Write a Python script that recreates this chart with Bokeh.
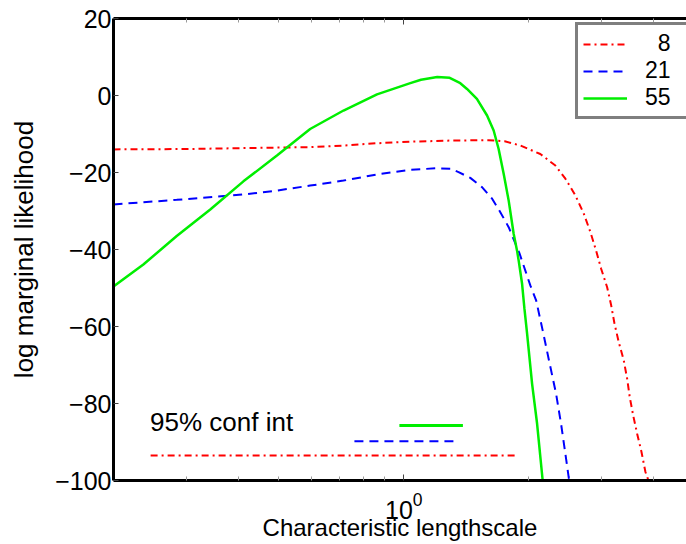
from bokeh.plotting import figure
from bokeh.models import LogAxis, FixedTicker, Legend, LegendItem, Range1d
from bokeh.core.properties import value
from bokeh.embed import file_html
from bokeh.resources import INLINE

FONT = "Liberation Sans"

# ---- data ----
series_names = ["\u20078", "21", "55"]

x8 = [0.2, 0.3, 0.45, 0.595, 0.716, 0.862, 1.037, 1.3, 1.6, 1.75, 1.909, 2.132, 2.318, 2.45,
      2.591, 2.713, 2.815, 2.905, 2.987, 3.088, 3.158, 3.216, 3.294, 3.386, 3.451, 3.501,
      3.568, 3.648, 3.736, 3.819, 3.884]
y8 = [-14.0, -13.9, -13.6, -13.4, -13.0, -12.4, -12.0, -11.7, -11.6, -11.9, -13.0, -15.2,
      -18.2, -21.6, -26.0, -30.7, -35.5, -40.3, -45.0, -49.8, -54.5, -59.2, -64.1, -68.8,
      -73.6, -78.4, -83.1, -87.9, -92.6, -97.8, -100.0]

x21 = [0.2, 0.284, 0.411, 0.495, 0.595, 0.716, 0.862, 1.037, 1.2, 1.295, 1.355, 1.446, 1.543,
       1.632, 1.708, 1.789, 1.901, 1.962, 2.018, 2.083, 2.16, 2.242, 2.327, 2.392, 2.45,
       2.495, 2.503]
y21 = [-28.3, -27.1, -25.7, -24.7, -23.4, -22.1, -20.5, -19.3, -18.9, -19.0, -19.9, -21.4,
       -23.8, -26.8, -30.3, -34.2, -41.1, -45.5, -49.4, -53.2, -61.0, -69.3, -77.5, -85.3,
       -93.1, -99.1, -100.0]

x55 = [0.2, 0.236, 0.284, 0.342, 0.411, 0.495, 0.595, 0.716, 0.862, 1.037, 1.10, 1.204, 1.29,
       1.368, 1.42, 1.50, 1.587, 1.646, 1.692, 1.74, 1.789, 1.839, 1.874, 1.891, 1.927, 1.952,
       1.981, 2.037, 2.094, 2.16]
y55 = [-49.6, -43.9, -36.5, -29.6, -22.3, -15.6, -8.7, -3.9, 0.3, 3.2, 4.1, 4.8, 4.6, 3.2,
       1.7, -0.9, -5.2, -9.1, -13.9, -20.3, -27.3, -35.9, -40.3, -42.9, -48.9, -55.3, -61.8,
       -74.9, -85.2, -100.0]

ci_label = ["95% conf int"]
ci_label_x = [0.245]
ci_label_y = [-84.7]
ci_x8 = [0.2457, 1.857]
ci_y8 = [-93.5, -93.5]
ci_x21 = [0.7606, 1.360]
ci_y21 = [-89.8, -89.8]
ci_x55 = [0.976, 1.388]
ci_y55 = [-85.7, -85.7]

x_major_ticks = [1]
x_minor_ticks = [0.3, 0.4, 0.5, 0.6, 0.7, 0.8, 0.9, 2, 3, 4]
y_ticks = [-100, -80, -60, -40, -20, 0, 20]
y_tick_labels = ["\u2212100", "\u221280", "\u221260", "\u221240", "\u221220", "0", "20"]
x_label = "Characteristic lengthscale"
y_label = "log marginal likelihood"

# ---- figure ----
p = figure(width=686, height=544, x_axis_type="log",
           x_range=Range1d(0.2, 4.795), y_range=Range1d(-100, 20),
           output_backend="svg", toolbar_location=None,
           min_border_left=113, min_border_right=0, min_border_top=18, min_border_bottom=64)
p.background_fill_color = "white"
p.border_fill_color = "white"
p.outline_line_color = None
p.xgrid.visible = False
p.ygrid.visible = False

red, blue, green = "#ff0000", "#0000ff", "#00ee00"

r8 = p.line(x8, y8, line_color=red, line_width=2, line_dash="7 4 2 4")
r21 = p.line(x21, y21, line_color=blue, line_width=2, line_dash="9 6")
r55 = p.line(x55, y55, line_color=green, line_width=2.5)

p.line(ci_x55, ci_y55, line_color=green, line_width=3)
p.line(ci_x21, ci_y21, line_color=blue, line_width=2, line_dash="9 6")
p.line(ci_x8, ci_y8, line_color=red, line_width=2, line_dash="7 4 2 4")
p.text(x=ci_label_x, y=ci_label_y, text=ci_label, text_font=value(FONT),
       text_font_size="26px", text_baseline="middle", text_align="left", text_color="black")

# x axis (bottom)
xa = p.xaxis[0]
xa.ticker = FixedTicker(ticks=x_major_ticks, minor_ticks=x_minor_ticks)
xa.axis_line_width = 3
xa.axis_line_color = "black"
xa.major_tick_in = 6
xa.major_tick_out = 0
xa.minor_tick_in = 4
xa.minor_tick_out = 0
xa.major_tick_line_color = "#444444"
xa.minor_tick_line_color = "#999999"
xa.major_label_text_font = FONT
xa.major_label_text_font_size = "25px"
xa.major_label_text_color = "black"
xa.major_label_standoff = 11
xa.axis_label = x_label
xa.axis_label_text_font = FONT
xa.axis_label_text_font_size = "24px"
xa.axis_label_text_font_style = "normal"
xa.axis_label_text_color = "black"
xa.axis_label_standoff = -8

# top axis (frame line with inward ticks, no labels)
top = LogAxis(ticker=FixedTicker(ticks=x_major_ticks, minor_ticks=x_minor_ticks))
top.axis_line_width = 3
top.axis_line_color = "black"
top.major_tick_in = 6
top.major_tick_out = 0
top.minor_tick_in = 4
top.minor_tick_out = 0
top.major_tick_line_color = "#444444"
top.minor_tick_line_color = "#999999"
top.major_label_overrides = {1: ""}
top.major_label_standoff = 0
p.add_layout(top, "above")

# y axis (left)
ya = p.yaxis[0]
ya.ticker = FixedTicker(ticks=y_ticks, minor_ticks=[])
ya.major_label_overrides = {t: lbl for t, lbl in zip(y_ticks, y_tick_labels)}
ya.axis_line_width = 3
ya.axis_line_color = "black"
ya.major_tick_in = 5
ya.major_tick_out = 0
ya.major_tick_line_color = "#444444"
ya.major_label_text_font = FONT
ya.major_label_text_font_size = "25px"
ya.major_label_text_color = "black"
ya.major_label_standoff = 2
ya.axis_label = y_label
ya.axis_label_text_font = FONT
ya.axis_label_text_font_size = "26px"
ya.axis_label_text_font_style = "normal"
ya.axis_label_text_color = "black"
ya.axis_label_standoff = 13

legend = Legend(items=[LegendItem(label=series_names[0], renderers=[r8]),
                       LegendItem(label=series_names[1], renderers=[r21]),
                       LegendItem(label=series_names[2], renderers=[r55])],
                location=(462, 361))
legend.padding = 5
legend.spacing = -2
legend.glyph_width = 44
legend.glyph_height = 20
legend.label_height = 20
legend.label_width = 70
legend.label_standoff = 18
legend.label_text_font = FONT
legend.label_text_font_size = "23px"
legend.label_text_color = "black"
legend.border_line_color = "black"
legend.border_line_width = 3
legend.background_fill_color = "white"
legend.background_fill_alpha = 1.0
p.add_layout(legend)

open("out.html", "w").write(file_html(p, INLINE))
